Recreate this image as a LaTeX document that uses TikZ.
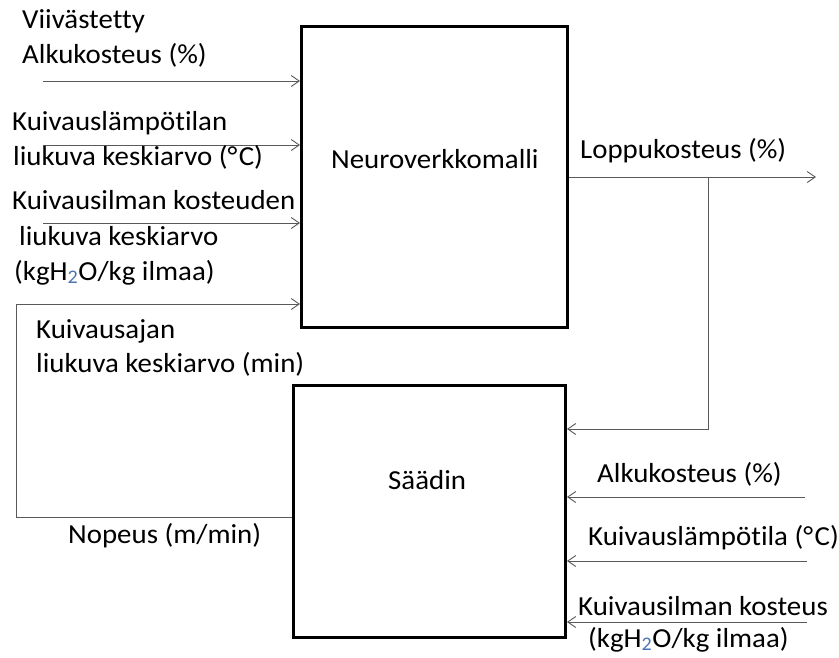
\documentclass[tikz,border=0pt]{standalone}
\usepackage{fontspec}
\setmainfont{Carlito}[Ligatures={NoCommon},FakeStretch=1.05]
\usetikzlibrary{arrows.meta}
\definecolor{wire}{gray}{0.35}
\definecolor{subblue}{rgb}{0.3,0.45,0.7}
\newcommand{\water}{kgH\textsubscript{\color{subblue}2}O/kg ilmaa}
\newcommand{\degC}{°\kern1.5pt C}
\begin{document}
\begin{tikzpicture}[x=1pt,y=-1pt,
  block/.style={draw=black,line width=3pt,inner sep=0pt},
  lbl/.style={anchor=base west,inner sep=0pt,font=\fontsize{27.5}{33}\selectfont},
  wirearrow/.style={draw=wire,line width=1pt,-{Straight Barb[length=8pt,width=11pt,line width=0.9pt]}},
  wireline/.style={draw=wire,line width=1pt}]
\useasboundingbox (0,0) rectangle (839,657);

% the two blocks
\node[block,minimum width=266pt,minimum height=301pt] (nn) at (434.5,177) {};
\node[block,minimum width=272pt,minimum height=252pt] (ctrl) at (429.5,511.5) {};
\node[lbl] (nnlbl) at (331,168) {Neuroverkkomalli};
\node[lbl] (ctrllbl) at (388,489) {Säädin};

% inputs of the network model
\coordinate (i1) at (43,81);
\coordinate (i2) at (43,145);
\coordinate (i3) at (43,223);
\draw[wirearrow] (i1) -- (nn.west |- i1);
\draw[wirearrow] (i2) -- (nn.west |- i2);
\draw[wirearrow] (i3) -- (nn.west |- i3);

\node[lbl] (t1a) at (22,28) {Viivästetty};
\node[lbl] (t1b) at (22,63) {Alkukosteus (\%)};
\node[lbl] (t2a) at (12,130) {Kuivauslämpötilan};
\node[lbl] (t2b) at (13,165) {liukuva keskiarvo (\degC)};
\node[lbl] (t3a) at (12,209) {Kuivausilman kosteuden};
\node[lbl] (t3b) at (19,245) {liukuva keskiarvo};
\node[lbl] (t3c) at (14,280) {(\water)};
\node[lbl] (t4a) at (36,338) {Kuivausajan};
\node[lbl] (t4b) at (36,372) {liukuva keskiarvo (min)};

% speed loop from the controller back to the model
\coordinate (l1) at (16,517);
\coordinate (l2) at (16,304);
\draw[wirearrow] (ctrl.west |- l1) -- (l1) -- (l2) -- (nn.west |- l2);
\node[lbl] (speed) at (68,543) {Nopeus (m/min)};

% output and feedback
\coordinate (out) at (816,177);
\coordinate (br) at (708,177);
\coordinate (fb) at (708,429);
\draw[wirearrow] (nn.east |- out) -- (out);
\draw[wirearrow] (br) -- (fb) -- (ctrl.east |- fb);
\node[lbl] (outlbl) at (580,158) {Loppukosteus (\%)};

% inputs of the controller
\coordinate (c1) at (805,497);
\coordinate (c2) at (807,561);
\coordinate (c3) at (807,622);
\draw[wirearrow] (c1) -- (ctrl.east |- c1);
\draw[wirearrow] (c2) -- (ctrl.east |- c2);
\draw[wirearrow] (c3) -- (ctrl.east |- c3);
\node[lbl] (c1lbl) at (597,482) {Alkukosteus (\%)};
\node[lbl] (c2lbl) at (588,545) {Kuivauslämpötila (\degC)};
\node[lbl] (c3lbl) at (578,615) {Kuivausilman kosteus};
\node[lbl] (c3lblb) at (588,647) {(\water)};
\end{tikzpicture}
\end{document}
